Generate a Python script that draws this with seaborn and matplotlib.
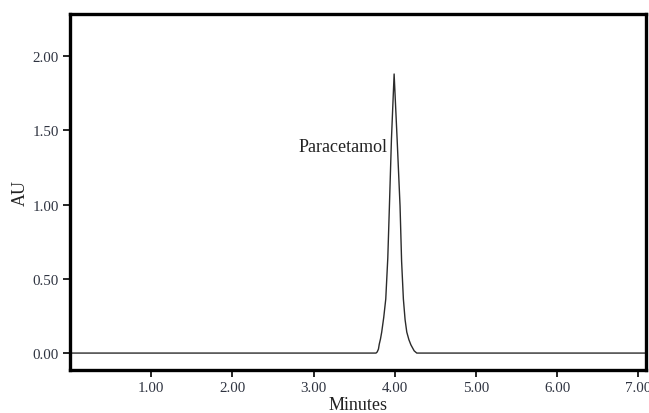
import matplotlib
matplotlib.use("Agg")
import matplotlib.pyplot as plt
import seaborn as sns
import pandas as pd

# Chromatogram trace (minutes, AU)
minutes = [0.00, 3.77, 3.785, 3.80, 3.81, 3.825, 3.84, 3.865, 3.89, 3.915, 3.935,
           3.96, 3.993, 4.03, 4.066, 4.085, 4.107, 4.128, 4.149, 4.175, 4.20,
           4.24, 4.272, 7.10]
au = [0.000, 0.000, 0.008, 0.027, 0.060, 0.095, 0.141, 0.240, 0.364, 0.640, 0.990,
      1.440, 1.879, 1.440, 0.990, 0.620, 0.364, 0.225, 0.141, 0.090, 0.055,
      0.015, 0.000, 0.000]
x_ticks = [1, 2, 3, 4, 5, 6, 7]
x_tick_labels = ["1.00", "2.00", "3.00", "4.00", "5.00", "6.00", "7.00"]
y_ticks = [0, 0.5, 1.0, 1.5, 2.0]
y_tick_labels = ["0.00", "0.50", "1.00", "1.50", "2.00"]
peak_label = "Paracetamol"

df = pd.DataFrame({"Minutes": minutes, "AU": au})

sns.set_style("ticks")
plt.rcParams["font.family"] = ["Liberation Serif", "DejaVu Serif"]

fig = plt.figure(figsize=(6.49, 4.14), dpi=100)
ax = fig.add_axes([70/649, 43/414, 576/649, 356/414])
sns.lineplot(data=df, x="Minutes", y="AU", ax=ax, color="#2b2b2b", linewidth=1.0)

ax.set_xlim(0, 7.096)
ax.set_ylim(-0.114, 2.283)
ax.set_xticks(x_ticks)
ax.set_xticklabels(x_tick_labels)
ax.set_yticks(y_ticks)
ax.set_yticklabels(y_tick_labels)
ax.tick_params(axis="both", direction="out", length=5, width=1.2, color="black",
               labelsize=10.8, labelcolor="#2e3340", pad=3)

for s in ax.spines.values():
    s.set_visible(True)
    s.set_linewidth(2.4)
    s.set_color("black")

ax.set_xlabel("Minutes", fontsize=13, color="#222222", labelpad=1.5)
ax.set_ylabel("AU", fontsize=13, color="#222222", labelpad=3)

ax.text(3.91, 1.39, peak_label, ha="right", va="center", fontsize=13, color="#222222")

fig.savefig("out.png", dpi=100)
